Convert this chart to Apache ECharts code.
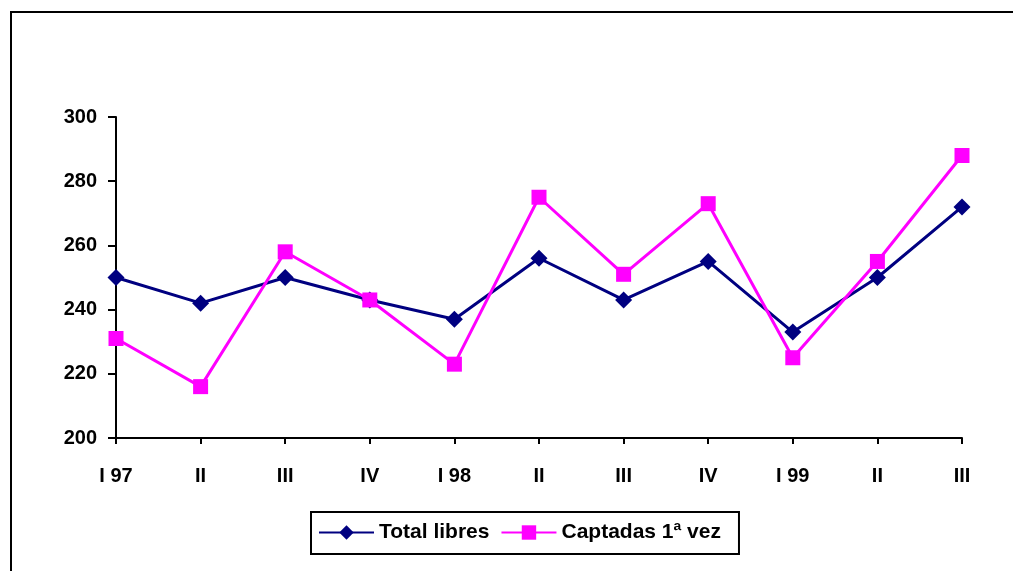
<!DOCTYPE html>
<html>
<head>
<meta charset="utf-8">
<script src="https://cdn.jsdelivr.net/npm/echarts@6/dist/echarts.min.js"></script>
<style>
  html, body { margin: 0; padding: 0; background: #fff; }
  #chart { width: 1013px; height: 571px; }
</style>
</head>
<body>
<div id="chart"></div>
<script>
// Quarterly categories
const categories = ['I 97', 'II', 'III', 'IV', 'I 98', 'II', 'III', 'IV', 'I 99', 'II', 'III'];
// Series values
const totalLibres = [250, 242, 250, 243, 237, 256, 243, 255, 233, 250, 272];
const captadas = [231, 216, 258, 243, 223, 275, 251, 273, 225, 255, 288];
// Value axis range
const yMin = 200, yMax = 300, yStep = 20;

const font = 'Liberation Sans, Arial, sans-serif';
const chart = echarts.init(document.getElementById('chart'));
chart.setOption({
  animation: false,
  graphic: [{
    type: 'rect',
    shape: { x: 11, y: 12, width: 1010, height: 570 },
    style: { fill: 'none', stroke: '#000', lineWidth: 2 },
    silent: true
  }],
  grid: { left: 116, right: 51, top: 117, bottom: 133 },
  legend: {
    left: 311, top: 512,
    padding: [10, 18, 11, 7],
    borderColor: '#000', borderWidth: 2,
    itemWidth: 55, itemHeight: 18, itemGap: 11,
    textStyle: { fontFamily: font, fontWeight: 'bold', fontSize: 21, color: '#000' },
    data: ['Total libres', 'Captadas 1ª vez']
  },
  xAxis: {
    type: 'category',
    data: categories,
    boundaryGap: false,
    axisLine: { lineStyle: { color: '#000', width: 2 } },
    axisTick: { length: 6, lineStyle: { color: '#000', width: 2 } },
    axisLabel: { margin: 28, fontFamily: font, fontWeight: 'bold', fontSize: 20, color: '#000' }
  },
  yAxis: {
    type: 'value',
    min: yMin, max: yMax, interval: yStep,
    splitLine: { show: false },
    axisLine: { show: true, lineStyle: { color: '#000', width: 2 } },
    axisTick: { show: true, length: 8, lineStyle: { color: '#000', width: 2 } },
    axisLabel: { margin: 19, fontFamily: font, fontWeight: 'bold', fontSize: 20, color: '#000' }
  },
  series: [{
    name: 'Total libres',
    type: 'line',
    data: totalLibres,
    symbol: 'diamond',
    symbolSize: 17,
    color: '#000080',
    lineStyle: { width: 3, color: '#000080' },
    itemStyle: { color: '#000080' }
  }, {
    name: 'Captadas 1ª vez',
    type: 'line',
    data: captadas,
    symbol: 'rect',
    symbolSize: 15,
    color: '#ff00ff',
    lineStyle: { width: 3, color: '#ff00ff' },
    itemStyle: { color: '#ff00ff' }
  }]
});
</script>
</body>
</html>
